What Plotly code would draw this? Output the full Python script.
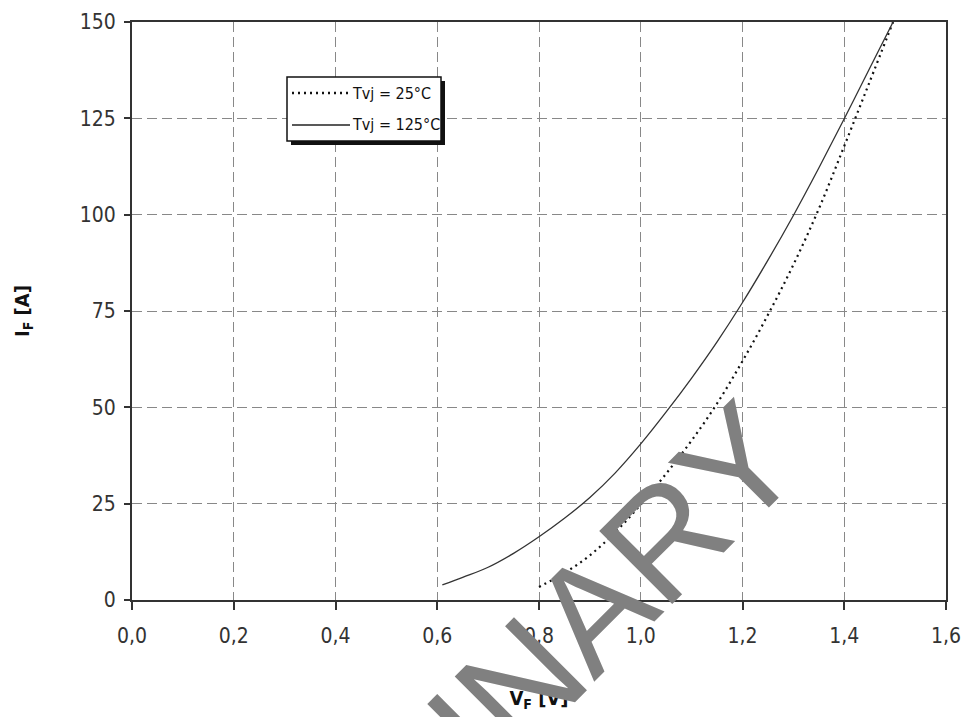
import math
import plotly.graph_objects as go

# ---- data ----
vf_125 = [0.61, 0.65, 0.70, 0.75, 0.80, 0.85, 0.90, 0.95, 1.00, 1.05, 1.10, 1.15, 1.20, 1.25, 1.30, 1.35, 1.40, 1.45, 1.496]
if_125 = [3.9, 5.9, 8.5, 12.1, 16.4, 21.2, 26.6, 33.0, 40.5, 48.8, 57.6, 67.0, 77.2, 88.2, 99.8, 112.1, 124.9, 138.0, 150.0]

vf_25 = [0.80, 0.85, 0.90, 0.95, 1.00, 1.05, 1.10, 1.15, 1.20, 1.25, 1.30, 1.35, 1.40, 1.45, 1.496]
if_25 = [3.4, 7.0, 11.6, 17.6, 24.8, 32.8, 41.4, 51.0, 62.0, 74.0, 87.0, 101.5, 117.8, 134.5, 150.0]

legend_labels = ["Tvj = 25°C", "Tvj = 125°C"]
x_ticks = [0.0, 0.2, 0.4, 0.6, 0.8, 1.0, 1.2, 1.4, 1.6]
y_ticks = [0, 25, 50, 75, 100, 125, 150]
x_title = "V<sub>F</sub> [V]"
y_title = "I<sub>F</sub> [A]"
watermark = "PRELIMINARY"

NARROW = "Liberation Sans Narrow, Arial Narrow, DejaVu Sans Condensed, sans-serif"

W, H = 963, 717
L, R, T, B = 132, 17, 22, 117
PW, PH = W - L - R, H - T - B


def px(xp):
    return (xp - L) / PW


def py(yp):
    return (H - B - yp) / PH


fig = go.Figure()
fig.add_trace(go.Scatter(x=vf_25, y=if_25, mode="lines", name=legend_labels[0],
                         line=dict(color="#111111", width=2.2, dash="2px,4px", shape="spline")))
fig.add_trace(go.Scatter(x=vf_125, y=if_125, mode="lines", name=legend_labels[1],
                         line=dict(color="#333333", width=1.3, shape="spline")))

axis_common = dict(showline=True, mirror=True, linecolor="#333333", linewidth=2,
                   showgrid=True, gridcolor="#888888", gridwidth=1, griddash="10px,5px",
                   ticks="outside", tickcolor="#333333", tickwidth=1.5,
                   zeroline=False, tickfont=dict(family=NARROW, size=21, color="#333333"))

fig.update_xaxes(range=[0, 1.6], tickvals=x_ticks, tickformat=".1f", ticklen=8,
                 ticklabelstandoff=8,
                 title=dict(text=x_title, standoff=44,
                            font=dict(family=NARROW, size=20, color="#111111", weight="bold")),
                 **axis_common)
fig.update_yaxes(range=[0, 150], tickvals=y_ticks, ticklen=6, ticklabelstandoff=4,
                 title=dict(text=y_title, standoff=45,
                            font=dict(family=NARROW, size=20, color="#111111", weight="bold")),
                 **axis_common)

# ---- legend box drawn by hand (long line samples, drop shadow) ----
bx0, bx1, by0, by1 = 287, 441, 77, 141
shapes = [
    dict(type="rect", xref="paper", yref="paper", x0=px(bx0 + 4), x1=px(bx1 + 4), y0=py(by1 + 4), y1=py(by0 + 4),
         fillcolor="#111111", line=dict(width=0), layer="above"),
    dict(type="rect", xref="paper", yref="paper", x0=px(bx0), x1=px(bx1), y0=py(by1), y1=py(by0),
         fillcolor="white", line=dict(color="#111111", width=1.5), layer="above"),
    dict(type="line", xref="paper", yref="paper", x0=px(292), x1=px(350), y0=py(93), y1=py(93),
         line=dict(color="#111111", width=2.5, dash="2px,4px"), layer="above"),
    dict(type="line", xref="paper", yref="paper", x0=px(292), x1=px(350), y0=py(125), y1=py(125),
         line=dict(color="#222222", width=1.3), layer="above"),
]
annotations = [
    dict(text=legend_labels[0], xref="paper", yref="paper", x=px(350), y=py(93), xanchor="left",
         yanchor="middle", showarrow=False, font=dict(family=NARROW, size=16, color="#111111")),
    dict(text=legend_labels[1], xref="paper", yref="paper", x=px(350), y=py(125), xanchor="left",
         yanchor="middle", showarrow=False, font=dict(family=NARROW, size=16, color="#111111")),
]

# ---- watermark: letters laid out one by one along a 45 degree line, ending with "Y" ----
wm_size = 150
wm_widths = {"P": 0.667, "R": 0.722, "E": 0.667, "L": 0.556, "I": 0.278, "M": 0.833,
             "N": 0.722, "A": 0.667, "Y": 0.667}
ang = math.radians(45)
ux, uy = math.cos(ang), -math.sin(ang)
end_cx, end_cy = 737, 466
dist = 0.0
letters = list(watermark)
for i in range(len(letters) - 1, -1, -1):
    ch = letters[i]
    if i < len(letters) - 1:
        dist += (wm_widths[ch] + wm_widths[letters[i + 1]]) / 2 * wm_size * 0.98
    cx = end_cx - ux * dist
    cy = end_cy - uy * dist
    annotations.append(dict(text=ch, xref="paper", yref="paper", x=px(cx), y=py(cy),
                            xanchor="center", yanchor="middle", showarrow=False, textangle=-45,
                            font=dict(family="Liberation Sans, Arial, sans-serif", size=wm_size,
                                      color="#808080")))

fig.update_layout(width=W, height=H, margin=dict(l=L, r=R, t=T, b=B, autoexpand=False),
                  paper_bgcolor="white", plot_bgcolor="white", showlegend=False,
                  separators=", ", shapes=shapes, annotations=annotations)

fig.write_html("out.html")
